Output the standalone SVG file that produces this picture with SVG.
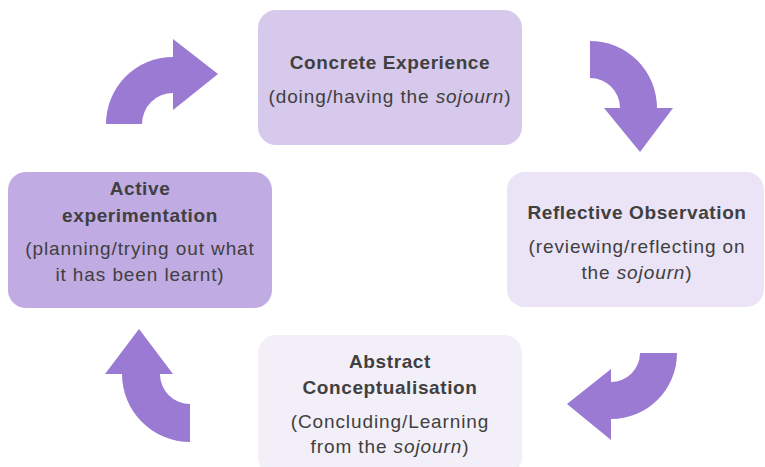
<svg xmlns="http://www.w3.org/2000/svg" width="765" height="467" viewBox="0 0 765 467">
  <style>
    .title { font-family: "Liberation Sans", Arial, sans-serif; font-size: 19px; font-weight: bold; letter-spacing: 0.6px; fill: #404040; text-anchor: middle; }
    .note { font-family: "Liberation Sans", Arial, sans-serif; font-size: 19px; letter-spacing: 0.9px; fill: #404040; text-anchor: middle; }
    .em { font-style: italic; }
    .arrow { fill: #9a7ad3; }
  </style>
  <rect width="765" height="467" fill="#ffffff"/>

  <g id="concrete-experience">
    <rect x="258" y="10" width="264" height="135" rx="18" fill="#d6c9ec"/>
    <text class="title" x="390" y="69">Concrete Experience</text>
    <text class="note" x="390" y="103">(doing/having the <tspan class="em">sojourn</tspan>)</text>
  </g>

  <g id="reflective-observation">
    <rect x="507" y="172" width="257" height="135" rx="18" fill="#ebe3f6"/>
    <text class="title" x="637" y="219">Reflective Observation</text>
    <text class="note" x="637" y="253">(reviewing/reflecting on</text>
    <text class="note" x="637" y="279">the <tspan class="em">sojourn</tspan>)</text>
  </g>

  <g id="abstract-conceptualisation">
    <rect x="258" y="335" width="264" height="140" rx="18" fill="#f3eff9"/>
    <text class="title" x="390" y="368">Abstract</text>
    <text class="title" x="390" y="394">Conceptualisation</text>
    <text class="note" x="390" y="428">(Concluding/Learning</text>
    <text class="note" x="390" y="453">from the <tspan class="em">sojourn</tspan>)</text>
  </g>

  <g id="active-experimentation">
    <rect x="8" y="172" width="264" height="136" rx="18" fill="#c1abe3"/>
    <text class="title" x="140" y="195">Active</text>
    <text class="title" x="140" y="222">experimentation</text>
    <text class="note" x="140" y="255">(planning/trying out what</text>
    <text class="note" x="140" y="281">it has been learnt)</text>
  </g>

  <g id="connectors">
    <!-- active experimentation -> concrete experience -->
    <path class="arrow" d="M106,124 A67,67 0 0 1 173,57 L173,39 L218,74 L173,110 L173,93 A31,31 0 0 0 142,124 Z"/>
    <!-- concrete experience -> reflective observation -->
    <path class="arrow" d="M590,41 A67,67 0 0 1 657,108 L673,108 L640,152 L604,108 L620,108 A30,30 0 0 0 590,78 Z"/>
    <!-- reflective observation -> abstract conceptualisation -->
    <path class="arrow" d="M677,353 A66,66 0 0 1 611,419 L611,440 L567,404 L611,369 L611,382 A29,29 0 0 0 640,353 Z"/>
    <!-- abstract conceptualisation -> active experimentation -->
    <path class="arrow" d="M190,442 A68,68 0 0 1 122,374 L105,374 L139,329 L173,374 L160,374 A30,30 0 0 0 190,404 Z"/>
  </g>
</svg>
